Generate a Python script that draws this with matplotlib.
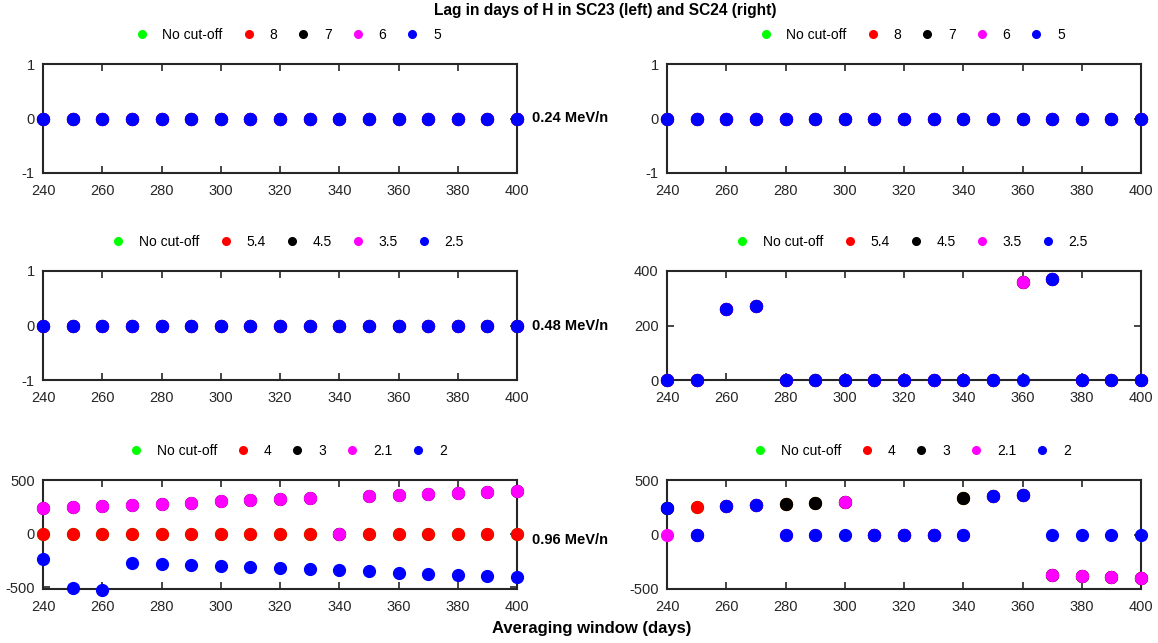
import matplotlib
matplotlib.use("Agg")
import matplotlib.pyplot as plt
from matplotlib.lines import Line2D

plt.rcParams['font.family'] = ['Liberation Sans', 'DejaVu Sans']
plt.rcParams['axes.unicode_minus'] = False

windows = [240, 250, 260, 270, 280, 290, 300, 310, 320, 330, 340, 350, 360, 370, 380, 390, 400]

cutoffs_024 = ["No cut-off", "8", "7", "6", "5"]
cutoffs_048 = ["No cut-off", "5.4", "4.5", "3.5", "2.5"]
cutoffs_096 = ["No cut-off", "4", "3", "2.1", "2"]
series_colors = [(0, 1, 0), (1, 0, 0), (0, 0, 0), (1, 0, 1), (0, 0, 1)]
energies = ["0.24 MeV/n", "0.48 MeV/n", "0.96 MeV/n"]

# no lag at all for every cut-off
flat = [0, 0, 0, 0, 0, 0, 0, 0, 0, 0, 0, 0, 0, 0, 0, 0, 0]

# SC24, 0.48 MeV/n
sc24_048_nocut = [0, 0, 259, 270, 0, 0, 0, 0, 0, 0, 0, 0, 361, 372, 0, 0, 0]
sc24_048_c54 = [0, 0, 259, 270, 0, 0, 0, 0, 0, 0, 0, 0, 361, 372, 0, 0, 0]
sc24_048_c45 = [0, 0, 259, 270, 0, 0, 0, 0, 0, 0, 0, 0, 361, 372, 0, 0, 0]
sc24_048_c35 = [0, 0, 259, 270, 0, 0, 0, 0, 0, 0, 0, 0, 361, 372, 0, 0, 0]
sc24_048_c25 = [0, 0, 259, 270, 0, 0, 0, 0, 0, 0, 0, 0, 0, 372, 0, 0, 0]

# SC23, 0.96 MeV/n
sc23_096_nocut = [0, 0, 0, 0, 0, 0, 0, 0, 0, 0, 0, 0, 0, 0, 0, 0, 0]
sc23_096_c4 = [0, 0, 0, 0, 0, 0, 0, 0, 0, 0, 0, 0, 0, 0, 0, 0, 0]
sc23_096_c3 = [236, 245, 258, 270, 280, 289, 301, 311, 320, 329, 0, 348, 360, 370, 379, 391, 401]
sc23_096_c21 = [236, 245, 258, 270, 280, 289, 301, 311, 320, 329, 0, 348, 360, 370, 379, 391, 401]
sc23_096_c2 = [-239, -503, -522, -273, -286, -295, -304, -314, -323, -332, -342, -351, -363, -373, -382, -391, -401]

# SC24, 0.96 MeV/n
sc24_096_nocut = [241, 254, 263, 272, 284, 293, 302, 0, 0, 0, 338, 350, 363, -372, -381, -390, -399]
sc24_096_c4 = [241, 254, 263, 272, 284, 293, 302, 0, 0, 0, 338, 350, 363, -372, -381, -390, -399]
sc24_096_c3 = [241, 0, 263, 272, 284, 293, 302, 0, 0, 0, 338, 350, 363, -372, -381, -390, -399]
sc24_096_c21 = [0, 0, 263, 272, 0, 0, 302, 0, 0, 0, 0, 350, 363, -372, -381, -390, -399]
sc24_096_c2 = [241, 0, 263, 272, 0, 0, 0, 0, 0, 0, 0, 350, 363, 0, 0, 0, 0]

panels = [
    # (row, col, labels, series, ylim, yticks)
    (0, 0, cutoffs_024, [flat, flat, flat, flat, flat], (-1, 1), [-1, 0, 1]),
    (0, 1, cutoffs_024, [flat, flat, flat, flat, flat], (-1, 1), [-1, 0, 1]),
    (1, 0, cutoffs_048, [flat, flat, flat, flat, flat], (-1, 1), [-1, 0, 1]),
    (1, 1, cutoffs_048, [sc24_048_nocut, sc24_048_c54, sc24_048_c45, sc24_048_c35, sc24_048_c25],
     (0, 400), [0, 200, 400]),
    (2, 0, cutoffs_096, [sc23_096_nocut, sc23_096_c4, sc23_096_c3, sc23_096_c21, sc23_096_c2],
     (-515, 500), [-500, 0, 500]),
    (2, 1, cutoffs_096, [sc24_096_nocut, sc24_096_c4, sc24_096_c3, sc24_096_c21, sc24_096_c2],
     (-500, 500), [-500, 0, 500]),
]

W, H = 1158, 643
fig = plt.figure(figsize=(W / 100, H / 100), dpi=100)

col_left = [43, 667]
ax_w = 474
row_top = [64, 271, 480]
ax_h = 109
spine_col = (0.15, 0.15, 0.15)

for row, col, labels, series, ylim, yticks in panels:
    x0 = col_left[col]
    y0 = row_top[row]
    ax = fig.add_axes([x0 / W, 1 - (y0 + ax_h) / H, ax_w / W, ax_h / H])
    for vals, c in zip(series, series_colors):
        ax.plot(windows, vals, 'o', color=c, markersize=8.5, clip_on=False, zorder=3)
    ax.set_xlim(240, 400)
    ax.set_ylim(*ylim)
    ax.set_xticks(range(240, 401, 20))
    ax.set_yticks(yticks)
    ax.tick_params(direction='in', top=True, right=True, length=5, width=1.2,
                   labelsize=10.5, colors=spine_col, labelcolor=(0.15, 0.15, 0.15))
    ax.tick_params(axis='x', pad=8)
    ax.tick_params(axis='y', pad=6)
    for s in ax.spines.values():
        s.set_linewidth(1.5)
        s.set_color(spine_col)

    handles = [Line2D([], [], marker='o', linestyle='', color=c, markersize=5.5)
               for c in series_colors]
    ax.legend(handles, labels, ncol=5, frameon=False, loc='center',
              bbox_to_anchor=(0.515, 1.27), fontsize=10, handletextpad=0.9,
              columnspacing=1.27, borderaxespad=0, handlelength=1.2)

    if col == 0:
        ycen = y0 + ax_h / 2 + (6 if row == 2 else 0)
        fig.text(532 / W, 1 - ycen / H, energies[row], fontsize=10.5,
                 fontweight='bold', va='center', ha='left')

fig.text(605 / W, 1 - 11 / H, "Lag in days of H in SC23 (left) and SC24 (right)",
         fontsize=11.2, fontweight='bold', ha='center', va='center')
fig.text(592 / W, 1 - 628 / H, "Averaging window (days)",
         fontsize=12, fontweight='bold', ha='center', va='center')

fig.savefig("out.png", dpi=100)
